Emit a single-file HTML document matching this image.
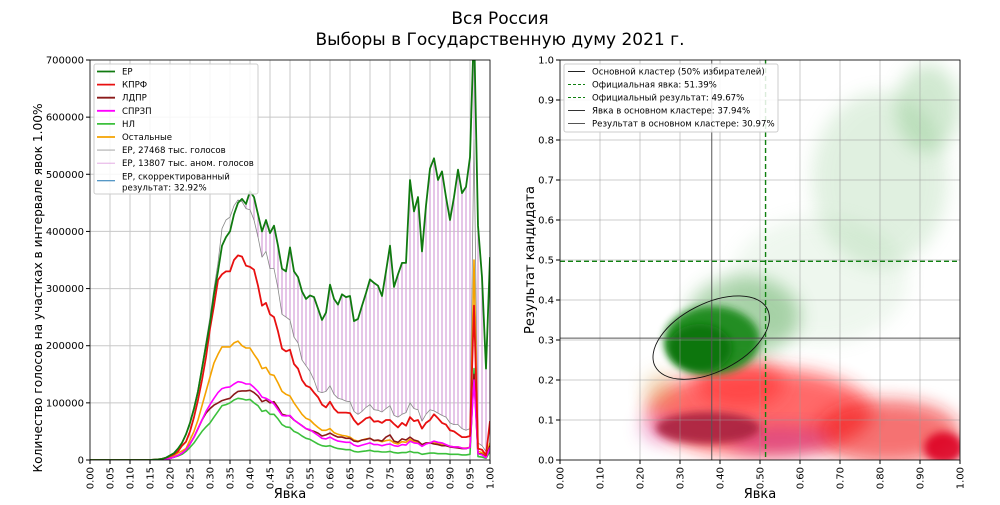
<!DOCTYPE html>
<html><head><meta charset="utf-8">
<style>
body{margin:0;background:#fff;}
svg text{font-family:"DejaVu Sans","Liberation Sans",sans-serif;fill:#000;}
</style></head>
<body>
<svg id="chart" width="1000" height="500" viewBox="0 0 1000 500" xmlns="http://www.w3.org/2000/svg">
<defs>
<filter id="blur6" x="-50%" y="-50%" width="200%" height="200%"><feGaussianBlur stdDeviation="9"/></filter>
<filter id="blur3" x="-50%" y="-50%" width="200%" height="200%"><feGaussianBlur stdDeviation="4"/></filter>
<clipPath id="clipL"><rect x="90" y="60" width="400" height="400"/></clipPath>
<clipPath id="clipR"><rect x="560" y="60" width="400" height="400"/></clipPath>
</defs>
<text x="500" y="24" font-size="17" text-anchor="middle">Вся Россия</text>
<text x="500" y="45" font-size="17" text-anchor="middle">Выборы в Государственную думу 2021 г.</text>
<g id="left"></g>
<g id="right"></g>
</svg>
<script>
const NS='http://www.w3.org/2000/svg';
// ---- left chart data (bins 0.00..1.00 step 0.01) ----
const turnoutBins=[];for(let i=0;i<=100;i++)turnoutBins.push(i/100);
const yTicksL=[0,100000,200000,300000,400000,500000,600000,700000];
const erVotes=[0,0,0,0,0,0,0,0,0,0,0,0,0,0,0,0,500,1000,2000,4000,8000,12000,20000,30000,45000,65000,90000,120000,160000,200000,240000,290000,330000,375000,390000,400000,430000,450000,457000,448000,470000,460000,430000,400000,420000,397000,410000,375000,335000,330000,372000,330000,320000,295000,282000,288000,285000,265000,245000,258000,307000,282000,272000,290000,285000,287000,243000,247000,270000,292000,316000,310000,305000,287000,330000,375000,303000,325000,345000,345000,490000,435000,460000,365000,445000,510000,528000,490000,505000,460000,420000,460000,508000,467000,478000,530000,760000,410000,320000,160000,355000];
const erBase=[0,0,0,0,0,0,0,0,0,0,0,0,0,0,0,0,500,1000,2000,4000,8000,12000,20000,31000,46000,67000,93000,124000,165000,207000,250000,300000,345000,405000,420000,425000,445000,455000,452000,440000,438000,420000,390000,355000,365000,335000,335000,300000,255000,250000,245000,215000,205000,175000,165000,155000,140000,120000,118000,120000,130000,115000,108000,106000,103000,102000,85000,80000,85000,92000,97000,88000,87000,84000,90000,95000,78000,75000,80000,83000,100000,90000,88000,68000,80000,88000,86000,82000,78000,75000,65000,62000,62000,55000,52000,55000,560000,30000,25000,15000,60000];
const kprfVotes=[0,0,0,0,0,0,0,0,0,0,0,0,0,0,0,0,500,1000,2000,4000,7000,10000,15000,25000,32000,50000,75000,105000,140000,180000,230000,270000,315000,325000,330000,330000,350000,358000,356000,340000,338000,333000,305000,270000,275000,255000,250000,225000,195000,190000,193000,168000,160000,140000,130000,127000,118000,110000,97000,92000,102000,90000,83000,83000,83000,82000,70000,62000,67000,73000,75000,67000,68000,65000,70000,70000,63000,57000,65000,60000,75000,68000,70000,55000,65000,70000,80000,73000,65000,62000,52000,50000,45000,40000,40000,42000,270000,20000,18000,8000,68000];
const ldprVotes=[0,0,0,0,0,0,0,0,0,0,0,0,0,0,0,0,200,400,800,1500,3000,5000,8000,12000,18000,28000,40000,55000,70000,82000,90000,96000,100000,104000,106000,108000,115000,120000,121000,121000,122000,118000,112000,102000,105000,100000,102000,92000,80000,78000,77000,70000,65000,60000,55000,52000,50000,47000,42000,44000,47000,43000,40000,40000,38000,38000,33000,32000,35000,36000,38000,34000,35000,33000,40000,44000,33000,31000,37000,35000,40000,35000,33000,27000,30000,30000,28000,27000,25000,25000,23000,22000,21000,20000,20000,22000,150000,12000,10000,5000,25000];
const sprVotes=[0,0,0,0,0,0,0,0,0,0,0,0,0,0,0,0,200,400,800,1500,3000,5000,8000,12000,18000,28000,40000,55000,70000,85000,97000,108000,118000,125000,127000,128000,133000,137000,136000,133000,133000,127000,120000,110000,108000,104000,98000,88000,78000,77000,78000,70000,65000,60000,55000,53000,48000,43000,38000,37000,40000,36000,33000,32000,31000,31000,26000,24000,26000,28000,30000,27000,27000,25000,27000,28000,25000,24000,27000,26000,33000,30000,29000,24000,28000,30000,33000,31000,30000,27000,24000,23000,23000,21000,20000,22000,140000,11000,9000,4000,22000];
const nlVotes=[0,0,0,0,0,0,0,0,0,0,0,0,0,0,0,0,100,300,600,1200,3000,5000,7000,10000,15000,22000,30000,40000,50000,58000,65000,75000,85000,95000,97000,100000,105000,108000,107000,105000,106000,100000,95000,85000,87000,80000,80000,72000,62000,58000,57000,50000,47000,42000,38000,36000,32000,28000,25000,24000,25000,22000,20000,19000,18000,18000,15000,14000,15000,16000,17000,15000,15000,14000,14000,15000,13000,12000,13000,13000,15000,13000,13000,10000,11000,12000,12000,11000,11000,11000,10000,10000,10000,9000,9000,10000,160000,6000,5000,3000,15000];
const otherVotes=[0,0,0,0,0,0,0,0,0,0,0,0,0,0,0,0,300,600,1200,2500,5000,8000,12000,16000,20000,35000,50000,70000,95000,120000,145000,170000,185000,198000,198000,198000,205000,208000,200000,196000,196000,185000,175000,160000,162000,150000,148000,135000,120000,115000,112000,100000,90000,80000,73000,70000,63000,57000,52000,52000,55000,48000,45000,43000,42000,40000,35000,33000,35000,37000,38000,34000,34000,32000,34000,35000,30000,28000,32000,31000,36000,32000,31000,26000,29000,30000,30000,29000,28000,26000,24000,23000,23000,21000,21000,22000,350000,15000,13000,7000,30000];

// ---- right chart data ----
const xTicksR=[0,0.1,0.2,0.3,0.4,0.5,0.6,0.7,0.8,0.9,1.0];
const yTicksR=[0,0.1,0.2,0.3,0.4,0.5,0.6,0.7,0.8,0.9,1.0];
const officialTurnout=0.5139, officialResult=0.4967, clusterTurnout=0.3794, clusterResult=0.3097;
// density clouds: [turnout, result, spreadX, spreadY, colour, opacity, sharp]
const cloudCentres=[
[0.65,0.45,0.22,0.16,'#8cc88c',0.14,0],[0.80,0.70,0.17,0.22,'#6ab86a',0.2,0],[0.92,0.88,0.08,0.11,'#4aa84a',0.25,0],
[0.50,0.12,0.28,0.11,'#ff2a2a',0.7,0],[0.82,0.07,0.18,0.08,'#f01818',0.6,0],[0.45,0.19,0.11,0.06,'#ff3030',0.6,0],
[0.96,0.03,0.05,0.04,'#dd0022',0.9,1],[0.25,0.17,0.04,0.05,'#d8a040',0.35,0],[0.25,0.08,0.05,0.04,'#e070c0',0.45,0],
[0.55,0.05,0.13,0.035,'#c8308e',0.55,0],[0.37,0.08,0.13,0.04,'#a82040',0.9,1],
[0.46,0.36,0.14,0.10,'#3a9a3a',0.4,0],[0.38,0.30,0.12,0.085,'#1a8a1a',0.95,1],[0.35,0.28,0.08,0.06,'#0c760c',1,1]];

const xL=v=>90+400*v, yL=v=>460-400*v/700000;
const xR=v=>560+400*v, yR=v=>460-400*v;

function el(tag,attrs,parent,text){const e=document.createElementNS(NS,tag);for(const k in attrs)e.setAttribute(k,attrs[k]);if(text!==undefined)e.textContent=text;parent.appendChild(e);return e;}

const L=document.getElementById('left');
const gL=el('g',{},L);

for(let i=0;i<=20;i++){const x=xL(i*0.05);el('line',{x1:x,x2:x,y1:60,y2:460,stroke:'#c8c8c8','stroke-width':1},gL);}
yTicksL.forEach(v=>el('line',{x1:90,x2:490,y1:yL(v),y2:yL(v),stroke:'#c8c8c8','stroke-width':1},gL));
const bars=el('g',{'clip-path':'url(#clipL)'},L);

turnoutBins.forEach((t,i)=>{if(erVotes[i]>erBase[i]){const b=el('line',{x1:xL(t),x2:xL(t),y1:yL(erBase[i]),y2:yL(erVotes[i]),stroke:'#d9a6dc','stroke-width':1.3},bars);
}});
function series(arr,color,w,name){const p=turnoutBins.map((t,i)=>xL(t).toFixed(1)+','+yL(arr[i]).toFixed(1)).join(' ');
const e=el('polyline',{points:p,fill:'none',stroke:color,'stroke-width':w,'stroke-linejoin':'round','clip-path':'url(#clipL)'},L);
}
series(erBase,'#888888',0.8,'line-er-baseline');
series(otherVotes,'#f5a300',1.6,'line-others');
series(nlVotes,'#3cc03c',1.6,'line-nl');
series(ldprVotes,'#8b1a1a',1.6,'line-ldpr');
series(sprVotes,'#ff00ff',1.6,'line-sprzp');
series(kprfVotes,'#e81010',1.8,'line-kprf');
series(erVotes,'#107a10',1.8,'line-er');
el('rect',{x:90,y:60,width:400,height:400,fill:'none',stroke:'#000','stroke-width':0.8},L);
const tkL=el('g',{},L);
yTicksL.forEach(v=>{el('line',{x1:86,x2:90,y1:yL(v),y2:yL(v),stroke:'#000'},tkL);el('text',{x:84,y:yL(v)+3.5,'font-size':10,'text-anchor':'end'},tkL,String(v));});
for(let i=0;i<=20;i++){const v=i*0.05,x=xL(v);el('line',{x1:x,x2:x,y1:460,y2:464,stroke:'#000'},tkL);
el('text',{x:0,y:0,'font-size':10,'text-anchor':'end',transform:`translate(${x+3.5},467) rotate(-90)`},tkL,v.toFixed(2));}
el('text',{x:290,y:498,'font-size':13,'text-anchor':'middle',},L,'Явка');
el('text',{x:0,y:0,'font-size':12.2,'text-anchor':'middle',transform:'translate(42,288) rotate(-90)',},L,'Количество голосов на участках в интервале явок 1.00%');
const lg=el('g',{},L);
el('rect',{x:94,y:64,width:164,height:130,fill:'#fff','fill-opacity':0.85,stroke:'#ccc',rx:2},lg);
const legL=[['ЕР','#107a10',1.8],['КПРФ','#e81010',1.8],['ЛДПР','#8b1a1a',1.8],['СПРЗП','#ff00ff',1.8],['НЛ','#3cc03c',1.8],['Остальные','#f5a300',1.8],['ЕР, 27468 тыс. голосов','#999',0.9],['ЕР, 13807 тыс. аном. голосов','#e0a0e0',0.9],['ЕР, скорректированный','#1f77b4',1]];
legL.forEach((d,i)=>{const y=71.5+i*13.1;el('line',{x1:97,x2:115,y1:y+(i==8?4.5:0),y2:y+(i==8?4.5:0),stroke:d[1],'stroke-width':d[2]},lg);el('text',{x:122,y:y+3,'font-size':8.6},lg,d[0]);});
el('text',{x:122,y:190.5,'font-size':8.6},lg,'результат: 32.92%');

const R=document.getElementById('right');
const cl=el('g',{'clip-path':'url(#clipR)'},R);

cloudCentres.forEach(c=>{const e=el('ellipse',{cx:xR(c[0]),cy:yR(c[1]),rx:c[2]*400,ry:c[3]*400,fill:c[4],opacity:c[5],filter:c[6]?'url(#blur3)':'url(#blur6)'},cl);
});
const gR=el('g',{},R);
xTicksR.forEach(v=>el('line',{x1:xR(v),x2:xR(v),y1:60,y2:460,stroke:'#999','stroke-opacity':0.5},gR));
yTicksR.forEach(v=>el('line',{x1:560,x2:960,y1:yR(v),y2:yR(v),stroke:'#999','stroke-opacity':0.5},gR));
el('line',{x1:xR(clusterTurnout),x2:xR(clusterTurnout),y1:60,y2:460,stroke:'#555','stroke-width':1,},R);
el('line',{x1:560,x2:960,y1:yR(clusterResult)+2,y2:yR(clusterResult)+2,stroke:'#555','stroke-width':1,},R);
el('line',{x1:xR(officialTurnout),x2:xR(officialTurnout),y1:60,y2:460,stroke:'#108010','stroke-width':1.4,'stroke-dasharray':'5,3',},R);
el('line',{x1:560,x2:960,y1:yR(officialResult),y2:yR(officialResult),stroke:'#108010','stroke-width':1.4,'stroke-dasharray':'5,3',},R);
el('ellipse',{cx:xR(0.378),cy:yR(0.306),rx:63,ry:34,fill:'none',stroke:'#111','stroke-width':0.9,transform:`rotate(-27 ${xR(0.378)} ${yR(0.306)})`,},R);
el('rect',{x:560,y:60,width:400,height:400,fill:'none',stroke:'#000','stroke-width':0.8},R);
const tkR=el('g',{},R);
yTicksR.forEach(v=>{el('line',{x1:556,x2:560,y1:yR(v),y2:yR(v),stroke:'#000'},tkR);el('text',{x:554,y:yR(v)+3.5,'font-size':10,'text-anchor':'end'},tkR,v.toFixed(1));});
xTicksR.forEach(v=>{const x=xR(v);el('line',{x1:x,x2:x,y1:460,y2:464,stroke:'#000'},tkR);
el('text',{x:0,y:0,'font-size':10,'text-anchor':'end',transform:`translate(${x+3.5},467) rotate(-90)`},tkR,v.toFixed(2));});
el('text',{x:760,y:498,'font-size':13,'text-anchor':'middle',},R,'Явка');
el('text',{x:0,y:0,'font-size':13,'text-anchor':'middle',transform:'translate(534,260) rotate(-90)',},R,'Результат кандидата');
const lr=el('g',{},R);
el('rect',{x:564,y:64,width:214,height:68,fill:'#fff','fill-opacity':0.85,stroke:'#ccc',rx:2},lr);
const legR=[['Основной кластер (50% избирателей)','#222',''],['Официальная явка: 51.39%','#108010','3,2'],['Официальный результат: 49.67%','#108010','3,2'],['Явка в основном кластере: 37.94%','#333',''],['Результат в основном кластере: 30.97%','#555','']];
legR.forEach((d,i)=>{const y=71.5+i*13;el('line',{x1:568,x2:585,y1:y,y2:y,stroke:d[1],'stroke-width':1.1,'stroke-dasharray':d[2]},lr);el('text',{x:592,y:y+3,'font-size':8.6},lr,d[0]);});
</script>
</body></html>
